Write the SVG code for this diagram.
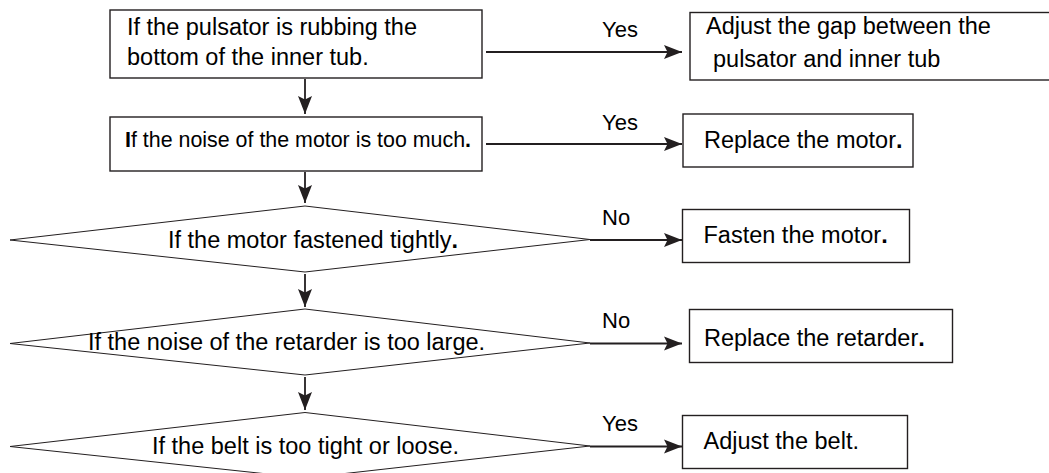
<svg xmlns="http://www.w3.org/2000/svg" width="1049" height="473" viewBox="0 0 1049 473">
  <style>
    .box { fill: #ffffff; stroke: #231f20; stroke-width: 1.4; }
    .dia { fill: #ffffff; stroke: #231f20; stroke-width: 1; }
    .t { font-family: "Liberation Sans", Arial, sans-serif; font-size: 23.5px; fill: #000000; }
    .lbl { font-family: "Liberation Sans", Arial, sans-serif; font-size: 22px; fill: #000000; }
    .b { font-weight: bold; }
    .conn { stroke: #231f20; stroke-width: 1.8; fill: none; marker-end: url(#arrow); }
  </style>
  <defs>
    <marker id="arrow" markerUnits="userSpaceOnUse" markerWidth="19" markerHeight="15" refX="18" refY="7.5" orient="auto">
      <path d="M0,0.5 L18,7.5 L0,14.5 L3.5,7.5 Z" fill="#231f20"/>
    </marker>
  </defs>
  <rect width="1049" height="473" fill="#ffffff"/>

  <g id="connectors">
    <line class="conn" x1="305" y1="79" x2="305" y2="114"/>
    <line class="conn" x1="305" y1="172" x2="305" y2="203"/>
    <line class="conn" x1="305" y1="274" x2="305" y2="307"/>
    <line class="conn" x1="305" y1="377" x2="305" y2="410"/>
    <line class="conn" x1="486" y1="52" x2="682" y2="52"/>
    <line class="conn" x1="486" y1="144" x2="682" y2="144"/>
    <line class="conn" x1="590" y1="240" x2="682" y2="240"/>
    <line class="conn" x1="590" y1="343.5" x2="682" y2="343.5"/>
    <line class="conn" x1="590" y1="446.5" x2="682" y2="446.5"/>
    <text class="lbl" x="602" y="37">Yes</text>
    <text class="lbl" x="602" y="130">Yes</text>
    <text class="lbl" x="602" y="224.5">No</text>
    <text class="lbl" x="602" y="327.5">No</text>
    <text class="lbl" x="602" y="431">Yes</text>
  </g>

  <g id="n1">
    <rect class="box" x="110" y="10" width="372" height="68"/>
    <text class="t" x="127" y="35">If the pulsator is rubbing the</text>
    <text class="t" x="127" y="65">bottom of the inner tub.</text>
  </g>
  <g id="n2">
    <rect class="box" x="690" y="12.5" width="380" height="67.5"/>
    <text class="t" x="706" y="34">Adjust the gap between the</text>
    <text class="t" x="713" y="67">pulsator and inner tub</text>
  </g>
  <g id="n3">
    <rect class="box" x="110" y="117" width="372" height="54"/>
    <text class="t" x="125" y="147" style="font-size:21.4px"><tspan class="b">I</tspan>f the noise of the motor is too much<tspan class="b">.</tspan></text>
  </g>
  <g id="n4">
    <rect class="box" x="683" y="114" width="230" height="53"/>
    <text class="t" x="704" y="148">Replace the motor<tspan class="b">.</tspan></text>
  </g>
  <g id="n5">
    <polygon class="dia" points="10,240 305,206 590,239.5 305,272"/>
    <text class="t" x="168" y="248">If the motor fastened tightly<tspan class="b">.</tspan></text>
  </g>
  <g id="n6">
    <rect class="box" x="682.5" y="209.5" width="227" height="53"/>
    <text class="t" x="703.5" y="242.5">Fasten the motor<tspan class="b">.</tspan></text>
  </g>
  <g id="n7">
    <polygon class="dia" points="10,343.5 305,309 590,343 305,375"/>
    <text class="t" x="88" y="350">If the noise of the retarder is too large.</text>
  </g>
  <g id="n8">
    <rect class="box" x="689.5" y="309.5" width="263" height="53"/>
    <text class="t" x="704" y="346">Replace the retarder<tspan class="b">.</tspan></text>
  </g>
  <g id="n9">
    <polygon class="dia" points="10,446.5 305,412.5 590,446 305,478"/>
    <text class="t" x="152" y="453.5">If the belt is too tight or loose.</text>
  </g>
  <g id="n10">
    <rect class="box" x="682.5" y="415.5" width="225" height="53"/>
    <text class="t" x="703.5" y="448.5">Adjust the belt.</text>
  </g>
</svg>
